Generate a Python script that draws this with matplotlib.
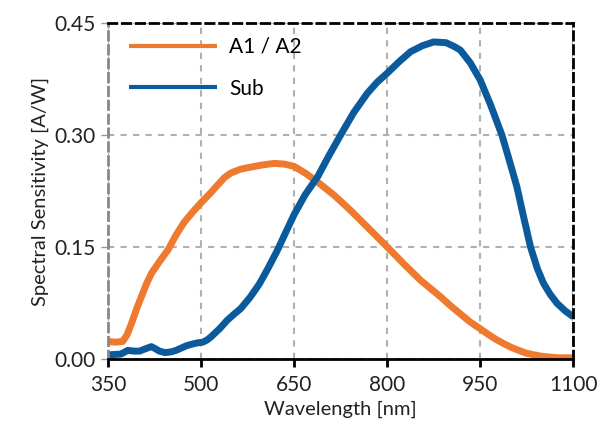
import matplotlib
matplotlib.use("Agg")
import matplotlib.pyplot as plt

# spectral sensitivity curves
wl_a = [350, 362, 374, 381, 388, 396, 404, 412, 420, 433, 447, 460, 473, 487,
        500, 514, 527, 538, 548, 563, 580, 600, 618, 635, 650, 668, 688, 715,
        741, 770, 800, 827, 854, 870, 886, 902, 918, 934, 950, 962, 975, 988,
        1000, 1012, 1025, 1037, 1050, 1075, 1100]
sens_a = [0.023, 0.022, 0.023, 0.032, 0.047, 0.066, 0.083, 0.100, 0.114, 0.130,
          0.146, 0.166, 0.183, 0.197, 0.209, 0.221, 0.233, 0.243, 0.249, 0.254,
          0.257, 0.260, 0.262, 0.261, 0.258, 0.249, 0.237, 0.219, 0.199, 0.175,
          0.150, 0.127, 0.105, 0.094, 0.083, 0.071, 0.060, 0.049, 0.040, 0.033,
          0.026, 0.020, 0.015, 0.011, 0.007, 0.005, 0.003, 0.001, 0.001]

wl_sub = [350, 371, 382, 392, 401, 410, 420, 427, 433, 442, 452, 460, 468, 476,
          484, 494, 503, 510, 516, 530, 543, 554, 564, 579, 594, 608, 623, 637,
          650, 668, 688, 706, 725, 746, 768, 784, 800, 820, 838, 857, 875, 895,
          908, 918, 934, 950, 967, 985, 997, 1009, 1020, 1031, 1042, 1052, 1063,
          1074, 1087, 1100]
sens_sub = [0.005, 0.006, 0.011, 0.010, 0.010, 0.013, 0.016, 0.013, 0.010,
            0.008, 0.009, 0.011, 0.014, 0.017, 0.019, 0.021, 0.022, 0.025,
            0.029, 0.040, 0.052, 0.060, 0.067, 0.082, 0.100, 0.121, 0.145,
            0.170, 0.193, 0.220, 0.244, 0.272, 0.300, 0.330, 0.356, 0.371,
            0.383, 0.399, 0.412, 0.420, 0.425, 0.424, 0.419, 0.414, 0.397,
            0.374, 0.340, 0.300, 0.266, 0.231, 0.190, 0.150, 0.121, 0.101,
            0.086, 0.074, 0.064, 0.056]

xticks = [350, 500, 650, 800, 950, 1100]
yticks = [0.0, 0.15, 0.30, 0.45]

plt.rcParams['font.family'] = ['Lato', 'DejaVu Sans']

fig = plt.figure(figsize=(6.06, 4.32), dpi=100)
ax = fig.add_axes([0.178, 0.170, 0.768, 0.776])

ax.plot(wl_a, sens_a, color='#ee7a30', lw=5, label='A1 / A2',
        solid_joinstyle='round', solid_capstyle='butt')
ax.plot(wl_sub, sens_sub, color='#0b5b9c', lw=5, label='Sub',
        solid_joinstyle='round', solid_capstyle='butt')

ax.set_xlim(350, 1100)
ax.set_ylim(0, 0.45)
ax.set_xticks(xticks)
ax.set_yticks(yticks)
ax.set_yticklabels(['%.2f' % v for v in yticks])

ax.grid(True, color='#b0b0b0', ls=(0, (3, 3)), lw=1.5)

ax.spines['bottom'].set_color('black')
ax.spines['bottom'].set_linewidth(2)
for s in ['top', 'right']:
    ax.spines[s].set_color('black')
    ax.spines[s].set_linestyle((0, (3, 2)))
    ax.spines[s].set_linewidth(2)
ax.spines['left'].set_color('#888888')
ax.spines['left'].set_linestyle((0, (3, 2)))
ax.spines['left'].set_linewidth(2)

ax.tick_params(axis='x', direction='out', length=6, width=2, colors='black',
               labelcolor='#222222', labelsize=15, pad=6)
ax.tick_params(axis='y', direction='out', length=5, width=1, colors='#999999',
               labelcolor='#222222', labelsize=15, pad=4)

ax.set_xlabel('Wavelength [nm]', fontsize=14.5, color='#222222')
ax.set_ylabel('Spectral Sensitivity [A/W]', fontsize=14.5, color='#222222')

leg = ax.legend(loc='upper left', bbox_to_anchor=(0.017, 1.0), frameon=False,
                fontsize=15, handlelength=4.2, labelspacing=1.05,
                handletextpad=0.6, borderaxespad=0.15, borderpad=0.5)
for h in leg.get_lines():
    h.set_linewidth(3)

fig.savefig('out.png', dpi=100)
